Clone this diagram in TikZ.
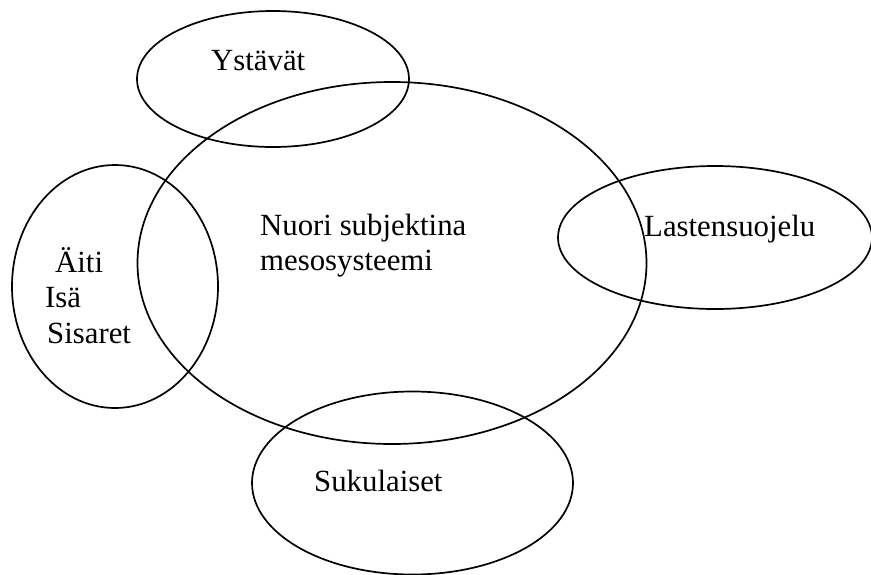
\documentclass[tikz,border=0pt]{standalone}
\usepackage{fontspec}
\setmainfont{Liberation Serif}
\begin{document}
\begin{tikzpicture}[x=1pt,y=-1pt,
  ring/.style={draw=black,line width=1.7pt},
  lbl/.style={anchor=base west,inner sep=0pt,font=\fontsize{30.8}{35}\selectfont}]
\useasboundingbox (0,0) rectangle (871,574);
\draw[ring] (392,263) ellipse [x radius=254.5, y radius=181];
\draw[ring] (273,79) ellipse [x radius=136, y radius=68];
\draw[ring] (115,286.5) ellipse [x radius=103, y radius=121.5];
\draw[ring] (715,237.5) ellipse [x radius=157, y radius=71.5];
\draw[ring] (412.5,483) ellipse [x radius=160.5, y radius=91.5];
\node[lbl] (ystavat) at (211,70) {Ystävät};
\node[lbl] (nuori) at (260,235) {Nuori subjektina};
\node[lbl] (meso) at (260,270) {mesosysteemi};
\node[lbl] (lasten) at (644,236) {Lastensuojelu};
\node[lbl] (aiti) at (55,272) {Äiti};
\node[lbl] (isa) at (45,307) {Isä};
\node[lbl] (sisaret) at (47,343) {Sisaret};
\node[lbl] (suku) at (314,491) {Sukulaiset};
\end{tikzpicture}
\end{document}
